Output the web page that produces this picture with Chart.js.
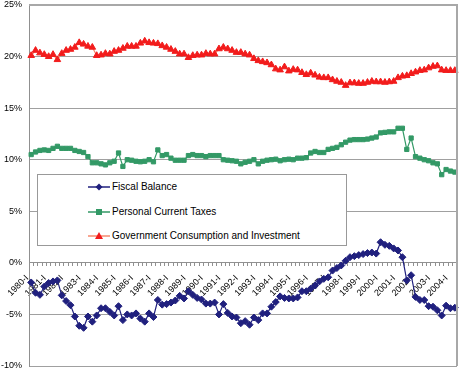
<!DOCTYPE html>
<html>
<head>
<meta charset="utf-8">
<script src="https://cdn.jsdelivr.net/npm/chart.js@4"></script>
<style>
  html, body { margin: 0; padding: 0; background: #fff; }
  #wrap { position: relative; width: 462px; height: 371px; }
  #legend {
    position: absolute; left: 37px; top: 174px; width: 310px; height: 72px;
    background: #fff; border: 1px solid #999; box-sizing: border-box;
    font: 10px "Liberation Sans", Arial, sans-serif; color: #000;
  }
  .item { position: absolute; left: 50px; height: 12px; line-height: 12px; white-space: nowrap; }
  .item svg { position: absolute; left: 0; top: 0; }
  .item span { position: absolute; left: 24px; top: 0; }
</style>
</head>
<body>
<div id="wrap">
  <canvas id="chart" width="462" height="371"></canvas>
  <div id="legend"></div>
</div>
<script>
// quarters 1980-I .. 2004-II
const firstYear = 1980;
const quarterCount = 98;
const quarterNames = ["I", "II", "III", "IV"];

const fiscalBalance = [
  -1.9, -2.9, -3.1, -2.3, -1.95, -1.8, -1.7, -3.15, -3.7, -4.1,
  -5.2, -6.1, -6.3, -5.2, -5.7, -5.1, -4.4, -4.4, -4.75, -5.1,
  -4.2, -5.55, -5.0, -5.1, -4.9, -5.4, -5.7, -4.9, -5.25, -3.6,
  -4.05, -4.0, -3.85, -3.65, -3.2, -3.45, -2.75, -3.1, -3.4, -3.55,
  -3.95, -3.95, -3.85, -5.0, -4.0, -4.85, -5.2, -5.3, -5.85, -5.65,
  -6.0, -5.3, -5.55, -4.9, -4.9, -4.25, -3.8, -3.25, -3.4, -3.45,
  -3.45, -3.35, -2.75, -2.75, -2.5, -2.2, -1.8, -1.55, -1.4, -0.75,
  -0.5, -0.25, 0.2, 0.55, 0.65, 0.75, 0.85, 0.95, 1.0, 0.9,
  2.0, 1.75, 1.65, 1.4, 1.2, 0.55, -1.7, -1.2, -3.3, -3.6,
  -3.6, -4.2, -4.25, -4.6, -5.1, -4.15, -4.4, -4.35
];

const personalTaxes = [
  10.5, 10.75, 10.9, 10.95, 10.9, 11.1, 11.3, 11.1, 11.1, 11.1,
  10.9, 10.8, 10.7, 10.3, 9.7, 9.7, 9.6, 9.5, 9.7, 9.85,
  10.65, 9.35, 10.0, 9.95, 9.85, 9.8, 9.85, 10.0, 9.8, 10.95,
  10.4, 10.5, 10.15, 9.95, 9.95, 9.95, 10.4, 10.5, 10.4, 10.4,
  10.3, 10.4, 10.4, 10.4, 10.0, 9.95, 9.9, 9.85, 9.6, 9.75,
  9.85, 10.0, 9.6, 9.85, 9.95, 10.0, 10.05, 9.9, 10.0, 10.05,
  10.0, 10.15, 10.15, 10.2, 10.65, 10.8, 10.7, 10.7, 11.0, 11.1,
  11.2, 11.45, 11.7, 11.9, 11.95, 11.95, 11.95, 12.0, 12.1, 12.2,
  12.6, 12.65, 12.7, 12.7, 13.05, 13.05, 11.0, 12.1, 10.3, 10.15,
  10.0, 9.9, 9.7, 9.6, 8.55, 9.05, 8.9, 8.8
];

const govConsumption = [
  20.1, 20.6, 20.35, 20.2, 20.0, 20.2, 19.7, 20.3, 20.6, 20.7,
  20.9, 21.35, 21.2, 21.0, 20.9, 20.1, 20.15, 20.3, 20.25, 20.5,
  20.6, 20.8, 21.0, 21.0, 21.0, 21.3, 21.5, 21.35, 21.3, 21.25,
  21.05, 20.9, 20.7, 20.5, 20.25, 20.25, 19.9, 20.1, 20.15, 20.15,
  20.3, 20.25, 20.25, 20.75, 20.9, 20.75, 20.6, 20.4, 20.4, 20.25,
  20.15, 19.8, 19.6, 19.5, 19.4, 19.2, 18.8, 18.7, 19.0, 18.6,
  18.75, 18.7, 18.45, 18.25, 18.4, 18.2, 18.0, 17.95, 17.95, 17.75,
  17.6, 17.5, 17.2, 17.45, 17.45, 17.4, 17.4, 17.5, 17.6, 17.55,
  17.55, 17.5, 17.55, 17.6, 17.95, 18.1, 18.15, 18.35, 18.5, 18.65,
  18.7, 18.9, 19.05, 19.1, 18.7, 18.65, 18.65, 18.65
];

const yTicks = [-10, -5, 0, 5, 10, 15, 20, 25];

const labels = [];
for (let i = 0; i < quarterCount; i++) {
  labels.push((firstYear + Math.floor(i / 4)) + "-" + quarterNames[i % 4]);
}

const series = [
  { label: "Fiscal Balance", data: fiscalBalance, line: "#20207e", fill: "#20207e", style: "rectRot", radius: 3.5 },
  { label: "Personal Current Taxes", data: personalTaxes, line: "#339966", fill: "#339966", style: "rect", radius: 3 },
  { label: "Government Consumption and Investment", data: govConsumption, line: "#f6886c", fill: "#f21c1c", style: "triangle", radius: 3.8 }
];

const frame = {
  id: "frame",
  afterDraw(chart) {
    const a = chart.chartArea, ctx = chart.ctx;
    ctx.save();
    ctx.strokeStyle = "#a8a8a8";
    ctx.lineWidth = 2;
    ctx.beginPath();
    ctx.moveTo(a.left, a.top);
    ctx.lineTo(a.right, a.top);
    ctx.lineTo(a.right, a.bottom);
    ctx.stroke();
    ctx.restore();
  }
};

new Chart(document.getElementById("chart"), {
  type: "line",
  data: {
    labels: labels,
    datasets: series.map(s => ({
      label: s.label,
      data: s.data,
      borderColor: s.line,
      backgroundColor: s.fill,
      borderWidth: 1.2,
      pointStyle: s.style,
      pointRadius: s.radius,
      pointBackgroundColor: s.fill,
      pointBorderColor: s.fill,
      pointBorderWidth: 1,
      tension: 0
    }))
  },
  options: {
    responsive: false,
    animation: false,
    layout: { padding: { top: 4, right: -2, bottom: 3, left: 0 } },
    plugins: { legend: { display: false }, tooltip: { enabled: false } },
    scales: {
      x: {
        position: { y: 0 },
        offset: true,
        afterFit: s => {
          s.height = 0;
          s.paddingLeft = 0; s.paddingRight = 0; s.paddingTop = 0; s.paddingBottom = 0;
        },
        grid: { offset: true, drawOnChartArea: false, drawTicks: true, tickLength: 3, color: "#909090" },
        border: { color: "#909090" },
        ticks: {
          autoSkip: false,
          maxRotation: 45,
          minRotation: 45,
          padding: 7,
          labelOffset: -4,
          font: { family: "Liberation Sans", size: 9 },
          color: "#000",
          callback: function (v, i) { return i % 4 === 0 ? this.getLabelForValue(v) : ""; }
        }
      },
      y: {
        min: -10,
        max: 25,
        afterFit: s => {
          s.width = 29;
          s.paddingTop = 0; s.paddingBottom = 0;
        },
        afterBuildTicks: s => { s.ticks = yTicks.map(v => ({ value: v })); },
        grid: { color: "#a0a0a0", drawTicks: false },
        border: { color: "#909090" },
        ticks: {
          padding: 7,
          font: { family: "Liberation Sans", size: 9 },
          color: "#000",
          callback: v => v + "%"
        }
      }
    }
  },
  plugins: [frame]
});

// legend overlay
const legend = document.getElementById("legend");
const rows = [12, 36.5, 61];
series.forEach((s, k) => {
  const div = document.createElement("div");
  div.className = "item";
  div.style.top = (rows[k] - 6) + "px";
  let mark = "";
  if (s.style === "rectRot") mark = '<polygon points="11,2.5 14.5,6 11,9.5 7.5,6" fill="' + s.fill + '"/>';
  if (s.style === "rect") mark = '<rect x="8" y="3" width="6" height="6" fill="' + s.fill + '"/>';
  if (s.style === "triangle") mark = '<polygon points="11,2 15,9 7,9" fill="' + s.fill + '"/>';
  div.innerHTML = '<svg width="22" height="12"><line x1="0" y1="6" x2="22" y2="6" stroke="' + s.line +
    '" stroke-width="1.5"/>' + mark + '</svg><span>' + s.label + '</span>';
  legend.appendChild(div);
});
</script>
</body>
</html>
